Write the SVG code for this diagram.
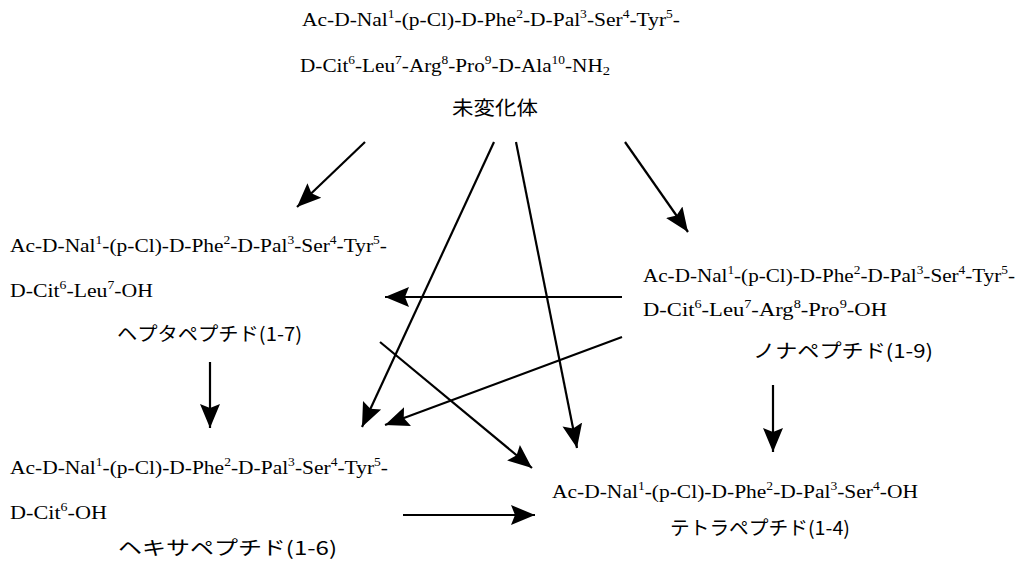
<svg xmlns="http://www.w3.org/2000/svg" width="1025" height="561" viewBox="0 0 1025 561">
<defs>
<marker id="ah" markerUnits="userSpaceOnUse" markerWidth="26" markerHeight="22" viewBox="0 0 26 22" refX="24" refY="11" orient="auto">
<path d="M0,1 L24,11 L0,21 L4,11 Z" fill="#000"/>
</marker>
<style>
.t{font-family:"Liberation Serif","Times New Roman",serif;font-size:19px;fill:#000}
.j{font-family:"Noto Sans CJK JP",sans-serif;font-size:19px;fill:#000}
.s{font-size:12px;baseline-shift:8px}
.b{font-size:13px;baseline-shift:-3px}
.c{stroke:#000;stroke-width:2.2;fill:none;marker-end:url(#ah)}
</style>
</defs>
<rect width="1025" height="561" fill="#fff"/>
<g id="unchanged">
<text class="t" x="302" y="26" textLength="378" lengthAdjust="spacingAndGlyphs">Ac-D-Nal<tspan class="s">1</tspan>-(p-Cl)-D-Phe<tspan class="s">2</tspan>-D-Pal<tspan class="s">3</tspan>-Ser<tspan class="s">4</tspan>-Tyr<tspan class="s">5</tspan>-</text>
<text class="t" x="300" y="72" textLength="310" lengthAdjust="spacingAndGlyphs">D-Cit<tspan class="s">6</tspan>-Leu<tspan class="s">7</tspan>-Arg<tspan class="s">8</tspan>-Pro<tspan class="s">9</tspan>-D-Ala<tspan class="s">10</tspan>-NH<tspan class="b">2</tspan></text>
<text class="j" x="452" y="115" textLength="86" lengthAdjust="spacingAndGlyphs">未変化体</text>
</g>
<g id="heptapeptide">
<text class="t" x="10" y="252" textLength="377" lengthAdjust="spacingAndGlyphs">Ac-D-Nal<tspan class="s">1</tspan>-(p-Cl)-D-Phe<tspan class="s">2</tspan>-D-Pal<tspan class="s">3</tspan>-Ser<tspan class="s">4</tspan>-Tyr<tspan class="s">5</tspan>-</text>
<text class="t" x="10" y="297" textLength="143" lengthAdjust="spacingAndGlyphs">D-Cit<tspan class="s">6</tspan>-Leu<tspan class="s">7</tspan>-OH</text>
<text class="j" x="117" y="341" textLength="185" lengthAdjust="spacingAndGlyphs">ヘプタペプチド(1-7)</text>
</g>
<g id="nonapeptide">
<text class="t" x="643" y="282" textLength="372" lengthAdjust="spacingAndGlyphs">Ac-D-Nal<tspan class="s">1</tspan>-(p-Cl)-D-Phe<tspan class="s">2</tspan>-D-Pal<tspan class="s">3</tspan>-Ser<tspan class="s">4</tspan>-Tyr<tspan class="s">5</tspan>-</text>
<text class="t" x="643" y="316" textLength="244" lengthAdjust="spacingAndGlyphs">D-Cit<tspan class="s">6</tspan>-Leu<tspan class="s">7</tspan>-Arg<tspan class="s">8</tspan>-Pro<tspan class="s">9</tspan>-OH</text>
<text class="j" x="753" y="358" textLength="180" lengthAdjust="spacingAndGlyphs">ノナペプチド(1-9)</text>
</g>
<g id="hexapeptide">
<text class="t" x="10" y="474" textLength="378" lengthAdjust="spacingAndGlyphs">Ac-D-Nal<tspan class="s">1</tspan>-(p-Cl)-D-Phe<tspan class="s">2</tspan>-D-Pal<tspan class="s">3</tspan>-Ser<tspan class="s">4</tspan>-Tyr<tspan class="s">5</tspan>-</text>
<text class="t" x="10" y="519" textLength="97" lengthAdjust="spacingAndGlyphs">D-Cit<tspan class="s">6</tspan>-OH</text>
<text class="j" x="118" y="555" textLength="219" lengthAdjust="spacingAndGlyphs">ヘキサペプチド(1-6)</text>
</g>
<g id="tetrapeptide">
<text class="t" x="552" y="498" textLength="366" lengthAdjust="spacingAndGlyphs">Ac-D-Nal<tspan class="s">1</tspan>-(p-Cl)-D-Phe<tspan class="s">2</tspan>-D-Pal<tspan class="s">3</tspan>-Ser<tspan class="s">4</tspan>-OH</text>
<text class="j" x="670" y="535" textLength="180" lengthAdjust="spacingAndGlyphs">テトラペプチド(1-4)</text>
</g>
<g id="connectors">
<line class="c" x1="365" y1="142" x2="297" y2="207"/>
<line class="c" x1="625" y1="142" x2="688" y2="232"/>
<line class="c" x1="494" y1="142" x2="362" y2="427"/>
<line class="c" x1="516" y1="142" x2="577" y2="448"/>
<line class="c" x1="622" y1="297" x2="385" y2="297"/>
<line class="c" x1="622" y1="337" x2="385" y2="425"/>
<line class="c" x1="380" y1="342" x2="532" y2="468"/>
<line class="c" x1="210" y1="362" x2="210" y2="428"/>
<line class="c" x1="773" y1="385" x2="773" y2="452"/>
<line class="c" x1="403" y1="515" x2="535" y2="515"/>
</g>
</svg>
